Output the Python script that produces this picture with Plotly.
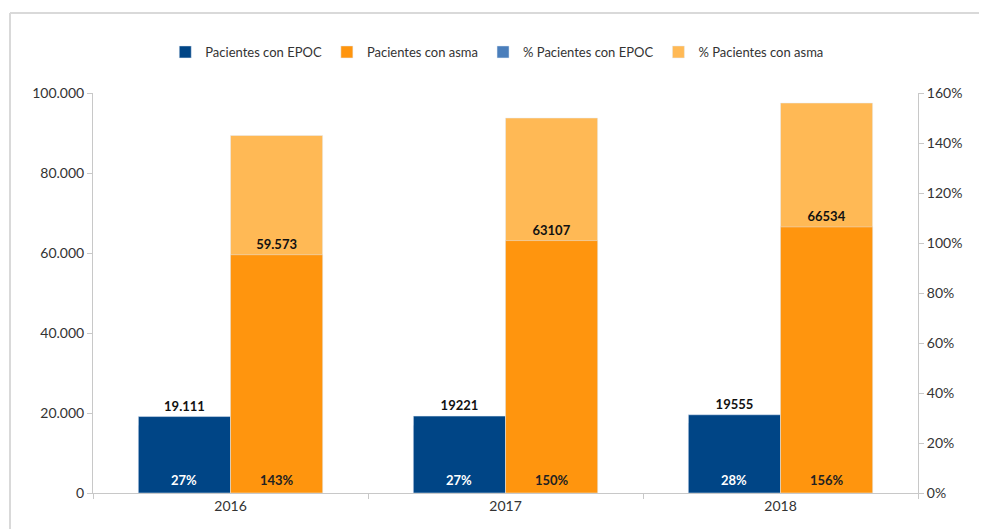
import plotly.graph_objects as go

# datos
years = ["2016", "2017", "2018"]
epoc = [19111, 19221, 19555]
asma = [59573, 63107, 66534]
epoc_labels = ["19.111", "19221", "19555"]
asma_labels = ["59.573", "63107", "66534"]
pct_epoc = [0.27, 0.27, 0.28]
pct_asma = [1.43, 1.50, 1.56]

OFF = 8  # margen del body de la página
W, H = 987 - OFF, 529 - OFF
ML, MR, MT, MB = 93 - OFF, 69, 93 - OFF, 36
BARGAP = 0.33

fnt = "Lato, 'Open Sans', sans-serif"
c_epoc = "#004586"
c_asma = "#ff950e"
c_pepoc = "#4a7ebb"
c_pasma = "#ffb955"

fig = go.Figure()
# barras de conteo en y2 (capa superior), porcentajes en y (detrás)
fig.add_trace(go.Bar(x=years, y=epoc, name="Pacientes con EPOC", marker_color=c_epoc,
                     yaxis="y2", offsetgroup="a", text=epoc_labels, textposition="outside",
                     texttemplate="<b>%{text}</b>",
                     textfont=dict(family=fnt, size=13, color="#111"), cliponaxis=False))
fig.add_trace(go.Bar(x=years, y=asma, name="Pacientes con asma", marker_color=c_asma,
                     yaxis="y2", offsetgroup="b", text=asma_labels, textposition="outside",
                     texttemplate="<b>%{text}</b>",
                     textfont=dict(family=fnt, size=13, color="#111"), cliponaxis=False))
fig.add_trace(go.Bar(x=years, y=pct_epoc, name="% Pacientes con EPOC", marker_color=c_pepoc,
                     yaxis="y", offsetgroup="a"))
fig.add_trace(go.Bar(x=years, y=pct_asma, name="% Pacientes con asma", marker_color=c_pasma,
                     yaxis="y", offsetgroup="b"))

# etiquetas de porcentaje en la base de las barras (x = índice de categoría)
bar_px = (W - ML - MR) / len(years) * (1 - BARGAP) / 2
for i, (pe, pa) in enumerate(zip(pct_epoc, pct_asma)):
    fig.add_annotation(x=i, y=0, xref="x", yref="y2", yanchor="bottom", yshift=3,
                       xshift=-bar_px / 2, text="<b>%d%%</b>" % round(pe * 100), showarrow=False,
                       font=dict(family=fnt, size=13, color="white"))
    fig.add_annotation(x=i, y=0, xref="x", yref="y2", yanchor="bottom", yshift=3,
                       xshift=bar_px / 2, text="<b>%d%%</b>" % round(pa * 100), showarrow=False,
                       font=dict(family=fnt, size=13, color="#222"))

# marco exterior
pw, ph = W - ML - MR, H - MT - MB
fx = (10 - OFF - ML) / pw
fy = 1 + (MT - (13 - OFF)) / ph
fig.add_shape(type="line", xref="paper", yref="paper", x0=fx, x1=(W - ML) / pw,
              y0=fy, y1=fy, line=dict(color="#d9d9d9", width=2))
fig.add_shape(type="line", xref="paper", yref="paper", x0=fx, x1=fx,
              y0=fy, y1=-MB / ph, line=dict(color="#d9d9d9", width=2))

axis_common = dict(showgrid=False, zeroline=False, showline=True, linecolor="#c8c8c8",
                   ticks="outside", ticklen=5, tickcolor="#c8c8c8", automargin=False,
                   tickfont=dict(family=fnt, size=14, color="#333"))
fig.update_layout(
    width=W, height=H, margin=dict(l=ML, r=MR, t=MT, b=MB),
    plot_bgcolor="white", paper_bgcolor="white",
    barmode="group", bargap=BARGAP, bargroupgap=0,
    separators=",.",
    font=dict(family=fnt, color="#333"),
    showlegend=True,
    legend=dict(orientation="h", x=0.49, xanchor="center", y=1 + (MT - (52 - OFF)) / ph,
                yanchor="middle", font=dict(family=fnt, size=13, color="#333"),
                itemwidth=30, traceorder="normal"),
    xaxis=dict(type="category", showgrid=False, showline=True, linecolor="#c8c8c8",
               ticks="outside", tickson="boundaries", ticklen=5, tickcolor="#c8c8c8",
               automargin=False, tickfont=dict(family=fnt, size=14, color="#333")),
    yaxis=dict(range=[0, 1.6], dtick=0.2, tickformat=".0%", side="right", **axis_common),
    yaxis2=dict(range=[0, 100000], dtick=20000, tickformat=",d", side="left", overlaying="y",
                **axis_common),
)

fig.write_html("out.html")
